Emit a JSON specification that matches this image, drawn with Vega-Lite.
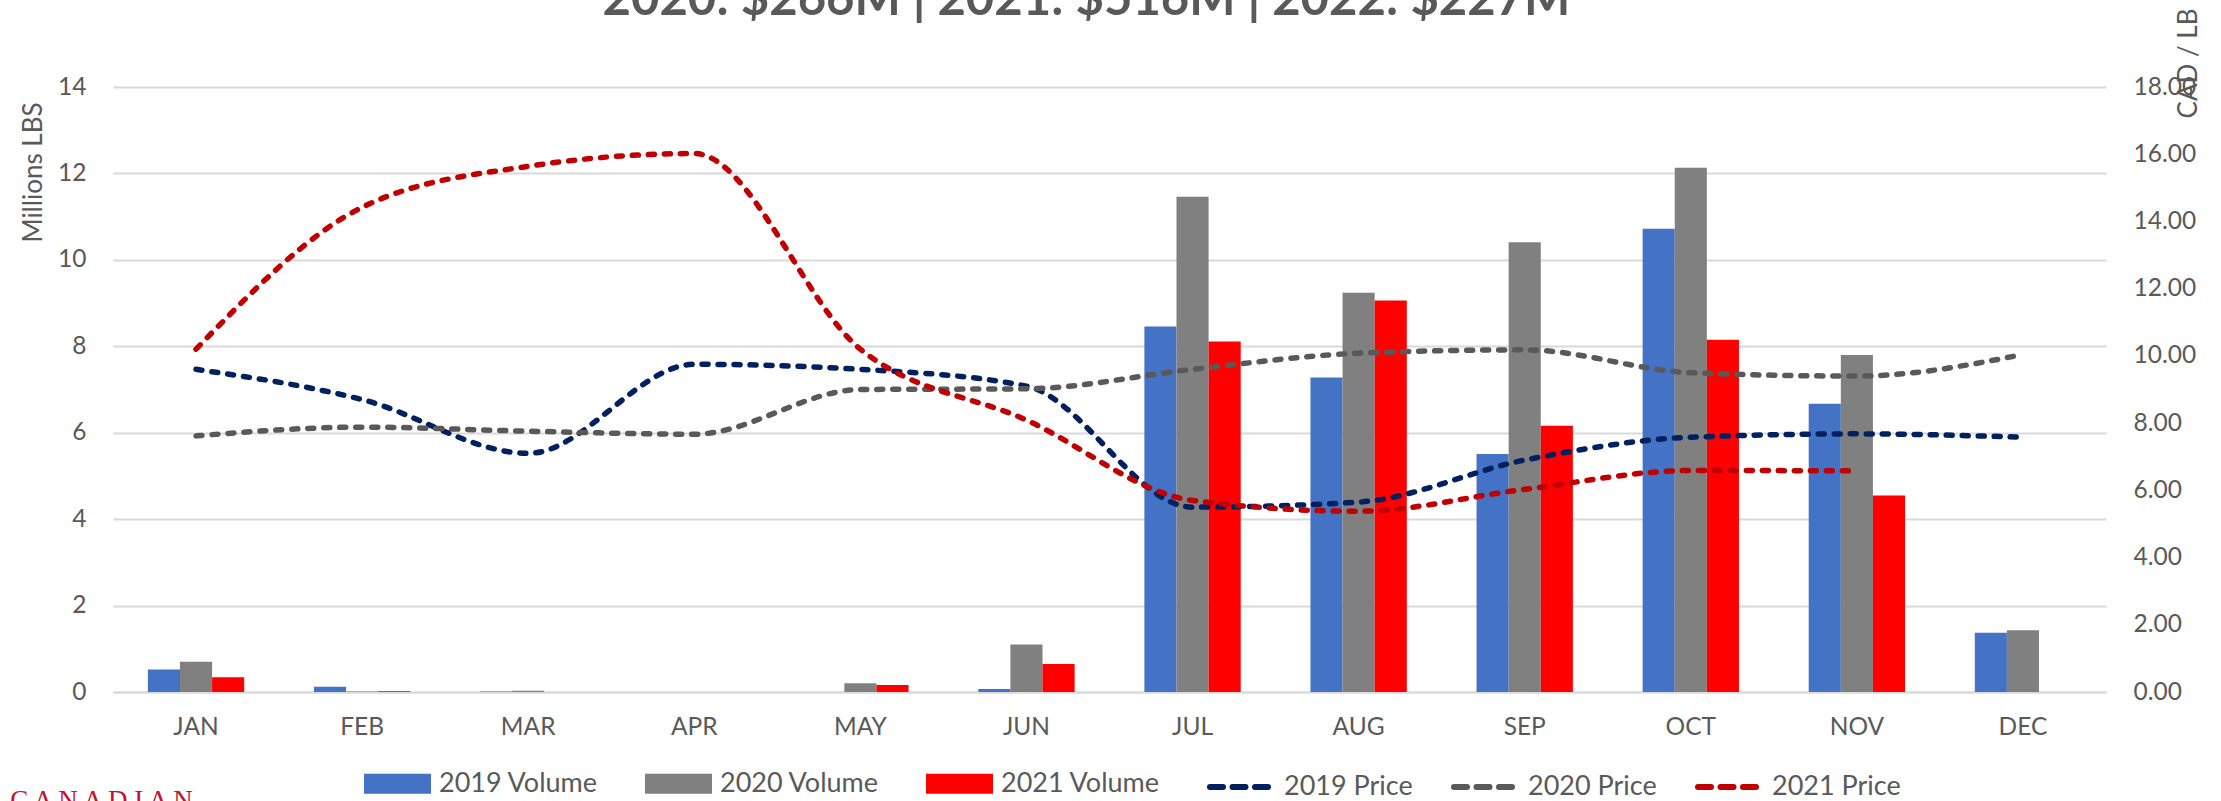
{
  "$schema": "https://vega.github.io/schema/vega-lite/v6.json",
  "width": 1993,
  "height": 605,
  "autosize": {"type": "none"},
  "padding": {"left": 113, "top": 87, "right": 115, "bottom": 109},
  "background": "white",
  "title": {
    "text": "2020: $266M | 2021: $516M | 2022: $227M",
    "font": "Lato",
    "fontSize": 49,
    "fontWeight": "bold",
    "color": "#595959",
    "anchor": "middle",
    "frame": "group",
    "baseline": "alphabetic",
    "offset": -56,
    "dx": -23
  },
  "config": {
    "view": {"stroke": null},
    "font": "Lato",
    "legend": {"padding": 0}
  },
  "datasets": {
    "volume": [
      {"month": "JAN", "series": "2019 Volume", "mlbs": 0.52},
      {"month": "JAN", "series": "2020 Volume", "mlbs": 0.70},
      {"month": "JAN", "series": "2021 Volume", "mlbs": 0.34},
      {"month": "FEB", "series": "2019 Volume", "mlbs": 0.12},
      {"month": "FEB", "series": "2020 Volume", "mlbs": 0.01},
      {"month": "FEB", "series": "2021 Volume", "mlbs": 0.02},
      {"month": "MAR", "series": "2019 Volume", "mlbs": 0.01},
      {"month": "MAR", "series": "2020 Volume", "mlbs": 0.03},
      {"month": "MAR", "series": "2021 Volume", "mlbs": 0},
      {"month": "APR", "series": "2019 Volume", "mlbs": 0},
      {"month": "APR", "series": "2020 Volume", "mlbs": 0},
      {"month": "APR", "series": "2021 Volume", "mlbs": 0},
      {"month": "MAY", "series": "2019 Volume", "mlbs": 0},
      {"month": "MAY", "series": "2020 Volume", "mlbs": 0.20},
      {"month": "MAY", "series": "2021 Volume", "mlbs": 0.16},
      {"month": "JUN", "series": "2019 Volume", "mlbs": 0.07},
      {"month": "JUN", "series": "2020 Volume", "mlbs": 1.10},
      {"month": "JUN", "series": "2021 Volume", "mlbs": 0.65},
      {"month": "JUL", "series": "2019 Volume", "mlbs": 8.46},
      {"month": "JUL", "series": "2020 Volume", "mlbs": 11.46},
      {"month": "JUL", "series": "2021 Volume", "mlbs": 8.11},
      {"month": "AUG", "series": "2019 Volume", "mlbs": 7.28},
      {"month": "AUG", "series": "2020 Volume", "mlbs": 9.24},
      {"month": "AUG", "series": "2021 Volume", "mlbs": 9.06},
      {"month": "SEP", "series": "2019 Volume", "mlbs": 5.51},
      {"month": "SEP", "series": "2020 Volume", "mlbs": 10.41},
      {"month": "SEP", "series": "2021 Volume", "mlbs": 6.16},
      {"month": "OCT", "series": "2019 Volume", "mlbs": 10.72},
      {"month": "OCT", "series": "2020 Volume", "mlbs": 12.13},
      {"month": "OCT", "series": "2021 Volume", "mlbs": 8.15},
      {"month": "NOV", "series": "2019 Volume", "mlbs": 6.67},
      {"month": "NOV", "series": "2020 Volume", "mlbs": 7.80},
      {"month": "NOV", "series": "2021 Volume", "mlbs": 4.55},
      {"month": "DEC", "series": "2019 Volume", "mlbs": 1.37},
      {"month": "DEC", "series": "2020 Volume", "mlbs": 1.43}
    ],
    "price": [
      {"month": "JAN", "series": "2019 Price", "cad": 9.6},
      {"month": "FEB", "series": "2019 Price", "cad": 8.7},
      {"month": "MAR", "series": "2019 Price", "cad": 7.1},
      {"month": "APR", "series": "2019 Price", "cad": 9.75},
      {"month": "MAY", "series": "2019 Price", "cad": 9.6},
      {"month": "JUN", "series": "2019 Price", "cad": 9.1},
      {"month": "JUL", "series": "2019 Price", "cad": 5.5},
      {"month": "AUG", "series": "2019 Price", "cad": 5.65},
      {"month": "SEP", "series": "2019 Price", "cad": 6.9},
      {"month": "OCT", "series": "2019 Price", "cad": 7.58},
      {"month": "NOV", "series": "2019 Price", "cad": 7.68},
      {"month": "DEC", "series": "2019 Price", "cad": 7.58},
      {"month": "JAN", "series": "2020 Price", "cad": 7.62},
      {"month": "FEB", "series": "2020 Price", "cad": 7.88},
      {"month": "MAR", "series": "2020 Price", "cad": 7.76},
      {"month": "APR", "series": "2020 Price", "cad": 7.67},
      {"month": "MAY", "series": "2020 Price", "cad": 9.0},
      {"month": "JUN", "series": "2020 Price", "cad": 9.02},
      {"month": "JUL", "series": "2020 Price", "cad": 9.6},
      {"month": "AUG", "series": "2020 Price", "cad": 10.08},
      {"month": "SEP", "series": "2020 Price", "cad": 10.18},
      {"month": "OCT", "series": "2020 Price", "cad": 9.5},
      {"month": "NOV", "series": "2020 Price", "cad": 9.4},
      {"month": "DEC", "series": "2020 Price", "cad": 10.04},
      {"month": "JAN", "series": "2021 Price", "cad": 10.2},
      {"month": "FEB", "series": "2021 Price", "cad": 14.42},
      {"month": "MAR", "series": "2021 Price", "cad": 15.64},
      {"month": "APR", "series": "2021 Price", "cad": 16.02},
      {"month": "MAY", "series": "2021 Price", "cad": 10.2},
      {"month": "JUN", "series": "2021 Price", "cad": 8.09},
      {"month": "JUL", "series": "2021 Price", "cad": 5.7},
      {"month": "AUG", "series": "2021 Price", "cad": 5.38},
      {"month": "SEP", "series": "2021 Price", "cad": 6.03},
      {"month": "OCT", "series": "2021 Price", "cad": 6.59},
      {"month": "NOV", "series": "2021 Price", "cad": 6.58}
    ]
  },
  "layer": [
    {
      "data": {"name": "volume"},
      "mark": {"type": "bar"},
      "encoding": {
        "x": {
          "field": "month",
          "type": "nominal",
          "sort": ["JAN", "FEB", "MAR", "APR", "MAY", "JUN", "JUL", "AUG", "SEP", "OCT", "NOV", "DEC"],
          "scale": {"paddingInner": 0.42, "paddingOuter": 0.21},
          "axis": {
            "labelAngle": 0,
            "labelFont": "Lato",
            "labelFontSize": 24.5,
            "labelColor": "#595959",
            "labelPadding": 23,
            "ticks": false,
            "domain": true,
            "domainColor": "#D9D9D9",
            "domainWidth": 2,
            "grid": false,
            "title": "C A N A D I A N",
            "titleFont": "Liberation Serif",
            "titleFontSize": 27,
            "titleFontWeight": "normal",
            "titleColor": "#C8102E",
            "titleX": -12,
            "titleY": 116,
            "titleAlign": "center",
            "titleBaseline": "alphabetic"
          }
        },
        "xOffset": {
          "field": "series",
          "type": "nominal",
          "sort": ["2019 Volume", "2020 Volume", "2021 Volume"],
          "scale": {"paddingInner": 0, "paddingOuter": 0}
        },
        "y": {
          "field": "mlbs",
          "type": "quantitative",
          "scale": {"domain": [0, 14], "nice": false},
          "axis": {
            "values": [0, 2, 4, 6, 8, 10, 12, 14],
            "labelFont": "Lato",
            "labelFontSize": 24.5,
            "labelColor": "#595959",
            "labelPadding": 27,
            "ticks": false,
            "domain": false,
            "grid": true,
            "gridColor": "#D9D9D9",
            "gridWidth": 2,
            "title": "Millions LBS",
            "titleFont": "Lato",
            "titleFontSize": 26,
            "titleFontWeight": "normal",
            "titleColor": "#595959",
            "titleAngle": 270,
            "titleX": -72,
            "titleY": 85,
            "titleAlign": "center",
            "titleBaseline": "alphabetic"
          }
        },
        "color": {
          "field": "series",
          "type": "nominal",
          "scale": {
            "domain": ["2019 Volume", "2020 Volume", "2021 Volume"],
            "range": ["#4472C4", "#808080", "#FF0000"]
          },
          "legend": {
            "orient": "none",
            "legendX": 251,
            "legendY": 663,
            "direction": "horizontal",
            "title": null,
            "symbolType": "M-1,-0.3H1V0.3H-1Z",
            "symbolSize": 4489,
            "symbolStrokeWidth": 0,
            "labelFont": "Lato",
            "labelFontSize": 27,
            "labelColor": "#595959",
            "labelOffset": 8,
            "labelLimit": 400,
            "columnPadding": 46
          }
        }
      }
    },
    {
      "data": {"name": "price"},
      "mark": {
        "type": "line",
        "interpolate": "monotone",
        "strokeWidth": 5.5,
        "strokeDash": [6, 10],
        "strokeCap": "round"
      },
      "encoding": {
        "x": {
          "field": "month",
          "type": "nominal",
          "sort": ["JAN", "FEB", "MAR", "APR", "MAY", "JUN", "JUL", "AUG", "SEP", "OCT", "NOV", "DEC"]
        },
        "y": {
          "field": "cad",
          "type": "quantitative",
          "scale": {"domain": [0, 18], "nice": false},
          "axis": {
            "orient": "right",
            "values": [0, 2, 4, 6, 8, 10, 12, 14, 16, 18],
            "format": ".2f",
            "labelFont": "Lato",
            "labelFontSize": 24.5,
            "labelColor": "#595959",
            "labelPadding": 27,
            "ticks": false,
            "domain": false,
            "grid": false,
            "title": "CAD / LB",
            "titleFont": "Lato",
            "titleFontSize": 26,
            "titleFontWeight": "normal",
            "titleColor": "#595959",
            "titleAngle": 270,
            "titleX": 90,
            "titleY": -24,
            "titleAlign": "center",
            "titleBaseline": "alphabetic"
          }
        },
        "stroke": {
          "field": "series",
          "type": "nominal",
          "scale": {
            "domain": ["2019 Price", "2020 Price", "2021 Price"],
            "range": ["#002060", "#595959", "#C00000"]
          },
          "legend": {
            "orient": "none",
            "legendX": 1094,
            "legendY": 667,
            "direction": "horizontal",
            "title": null,
            "symbolType": "stroke",
            "symbolSize": 3600,
            "symbolStrokeWidth": 6,
            "symbolDash": [13, 9.5],
            "labelFont": "Lato",
            "labelFontSize": 27,
            "labelColor": "#595959",
            "labelOffset": 11,
            "labelLimit": 400,
            "columnPadding": 29,
            "encode": {"symbols": {"update": {"strokeCap": {"value": "round"}}}}
          }
        }
      }
    }
  ],
  "resolve": {"scale": {"y": "independent"}}
}
